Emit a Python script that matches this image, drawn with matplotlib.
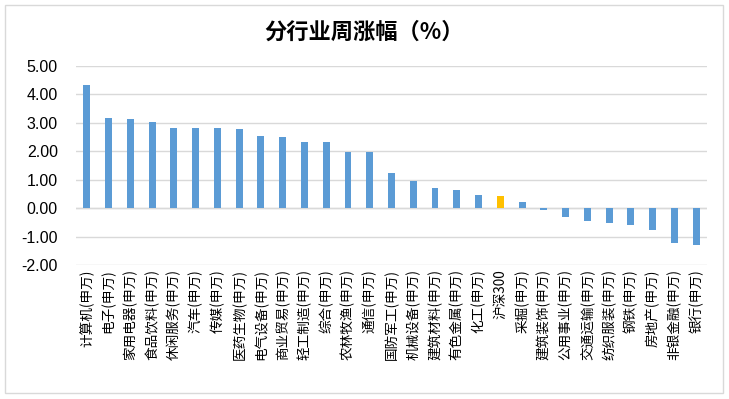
import matplotlib
matplotlib.use("Agg")
import matplotlib.pyplot as plt
from matplotlib.patches import Rectangle

plt.rcParams['font.family'] = ['Noto Sans CJK SC', 'DejaVu Sans']

categories = ["计算机(申万)", "电子(申万)", "家用电器(申万)", "食品饮料(申万)", "休闲服务(申万)",
              "汽车(申万)", "传媒(申万)", "医药生物(申万)", "电气设备(申万)", "商业贸易(申万)",
              "轻工制造(申万)", "综合(申万)", "农林牧渔(申万)", "通信(申万)", "国防军工(申万)",
              "机械设备(申万)", "建筑材料(申万)", "有色金属(申万)", "化工(申万)", "沪深300",
              "采掘(申万)", "建筑装饰(申万)", "公用事业(申万)", "交通运输(申万)", "纺织服装(申万)",
              "钢铁(申万)", "房地产(申万)", "非银金融(申万)", "银行(申万)"]
values = [4.33, 3.16, 3.12, 3.02, 2.81, 2.81, 2.81, 2.77, 2.53, 2.49,
          2.32, 2.32, 1.97, 1.97, 1.23, 0.95, 0.70, 0.63, 0.46, 0.42,
          0.21, -0.06, -0.30, -0.44, -0.51, -0.58, -0.76, -1.24, -1.31]
yticks = [5.0, 4.0, 3.0, 2.0, 1.0, 0.0, -1.0, -2.0]
title = "分行业周涨幅（%）"

colors = ['#FFC000' if c == "沪深300" else '#5B9BD5' for c in categories]

W, H = 729, 399
fig = plt.figure(figsize=(W / 100, H / 100), dpi=100)
ax = fig.add_axes([76 / W, 1 - 265 / H, (707 - 76) / W, (265 - 66) / H])

x = list(range(len(categories)))
ax.bar(x, values, width=0.32, color=colors, zorder=3)
ax.set_xlim(-0.5, len(categories) - 0.5)
ax.set_ylim(-2, 5)
ax.set_yticks(yticks)
ax.set_yticklabels([f"{v:.2f}" for v in yticks], fontsize=11.5, family=['Liberation Sans', 'DejaVu Sans'])
ax.yaxis.grid(True, color='#D9D9D9', linewidth=1.0, zorder=0)
ax.set_xticks(x)
ax.set_xticklabels(categories, rotation=90, fontsize=9.8, va='top', ha='center')
ax.tick_params(axis='both', length=0)
ax.tick_params(axis='y', pad=13)
ax.tick_params(axis='x', pad=3)
for s in ax.spines.values():
    s.set_visible(False)
ax.axhline(0, color='#D9D9D9', linewidth=1.0, zorder=2)

fig.text(0.5, 1 - 32 / H, title, ha='center', va='center', fontsize=16, weight='bold')
fig.patches.append(Rectangle((5 / W, 1 - 393 / H), (723 - 5) / W, (393 - 5) / H,
                             transform=fig.transFigure, fill=False, edgecolor='#D9D9D9', linewidth=1))

fig.savefig("out.png", dpi=100)
